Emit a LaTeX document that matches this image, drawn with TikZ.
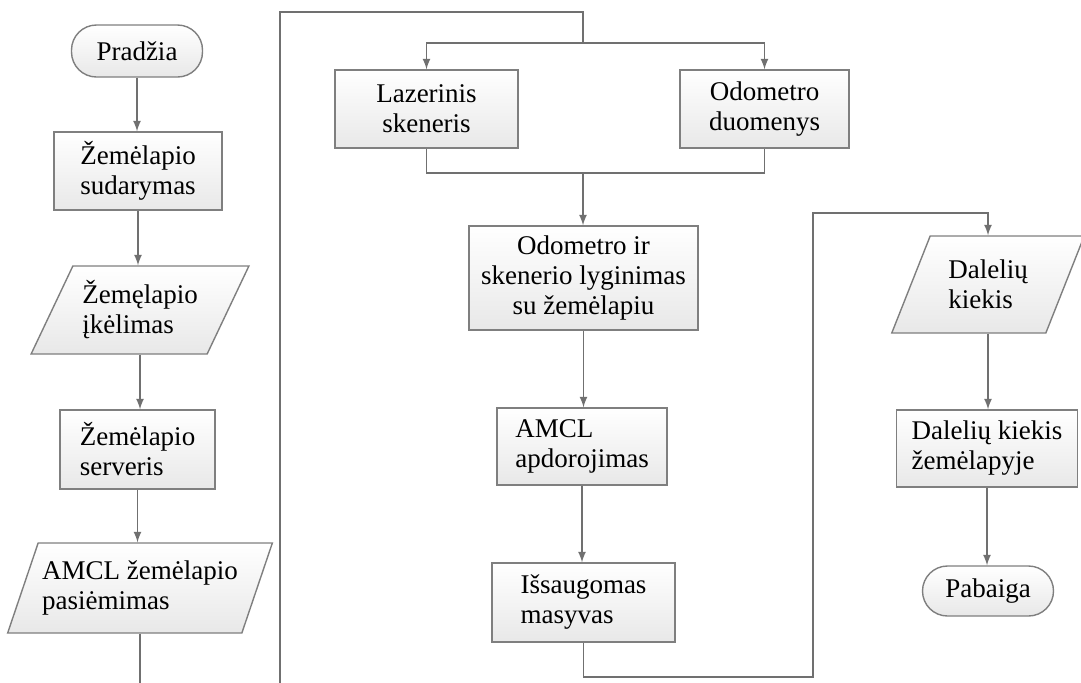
\documentclass[tikz,border=0pt]{standalone}
\usepackage{fontspec}
\setmainfont{Liberation Serif}
\usepackage{tikz}
\usetikzlibrary{calc}
\usetikzlibrary{shapes.geometric}

\definecolor{linegray}{HTML}{707070}
\definecolor{boxgray}{HTML}{7F7F7F}

\tikzset{
    block/.style={draw=boxgray, line width=0.7pt, rectangle, top color=white, bottom color=black!9,
        inner sep=2pt, font=\rmfamily\fontsize{13.5}{15}\selectfont},
    terminal/.style={block, rounded corners=12.5pt},
    io/.style={block, trapezium, trapezium stretches=true},
    flow/.style={draw=linegray, line width=0.8pt},
    arr/.style={flow, -latex}
}

\begin{document}
\begin{tikzpicture}[x=0.5pt, y=-0.5pt]
    \useasboundingbox (0,0) rectangle (1081,682);
    \clip (0,0) rectangle (1081,682);

    % left column
    \node[terminal, minimum width=65.5pt, minimum height=26pt] (start) at (137, 51) {Pradžia};
    \node[block, minimum width=84pt, minimum height=39pt, align=center] (mapmake) at (138, 171) {Žemėlapio\\sudarymas};
    \node[io, trapezium left angle=60, trapezium right angle=120, minimum width=110pt, minimum height=44pt, align=left] (mapload) at (140, 310) {Žemęlapio\\įkėlimas};
    \node[block, minimum width=77.5pt, minimum height=39.5pt, align=left] (mapserver) at (137.5, 449.5) {Žemėlapio\\serveris};
    \node[io, trapezium left angle=64, trapezium right angle=116, minimum width=121pt, minimum height=45pt, align=left] (mapget) at (140, 588) {AMCL žemėlapio\\pasiėmimas};

    \draw[arr] (start.south) -- (start.south |- mapmake.north);
    \draw[arr] (mapmake.south) -- (mapmake.south |- mapload.north);
    \draw[arr] (mapload.south) -- (mapload.south |- mapserver.north);
    \draw[arr] (mapserver.south) -- (mapserver.south |- mapget.north);

    % middle column
    \node[block, minimum width=91.5pt, minimum height=39pt, align=center] (laser) at (426.5, 109) {Lazerinis\\skeneris};
    \node[block, minimum width=84.5pt, minimum height=39pt, align=center] (odom) at (764.5, 109) {Odometro\\duomenys};
    \node[block, minimum width=114.5pt, minimum height=52pt, align=center] (compare) at (583.5, 278) {Odometro ir\\skenerio lyginimas\\su žemėlapiu};
    \node[block, minimum width=85pt, minimum height=38.5pt, align=left] (amclproc) at (582, 446.5) {AMCL\\apdorojimas};
    \node[block, minimum width=91.5pt, minimum height=39.5pt, align=left] (save) at (583.5, 602.5) {Išsaugomas\\masyvas};

    \coordinate (loopL) at (280, 700);
    \coordinate (loopT) at (280, 12);
    \coordinate (split) at (583, 43);
    \coordinate (join) at (583, 173);

    \draw[flow] (mapget.south) |- (loopL) -- (loopT) -| (split);
    \draw[arr] (split) -| (laser.north);
    \draw[arr] (split) -| (odom.north);
    \draw[flow] (laser.south) |- (join) -| (odom.south);
    \draw[arr] (join) -- (join |- compare.north);
    \draw[arr] (compare.south) -- (compare.south |- amclproc.north);
    \draw[arr] (amclproc.south) -- (amclproc.south |- save.north);

    % right column
    \node[io, trapezium left angle=63, trapezium right angle=117, minimum width=96.5pt, minimum height=48.5pt, align=left] (partin) at (988, 284.5) {Dalelių\\kiekis};
    \node[block, minimum width=90.5pt, minimum height=38.5pt, align=left] (partmap) at (987, 448.5) {Dalelių kiekis\\žemėlapyje};
    \node[terminal, minimum width=65.5pt, minimum height=25pt] (stop) at (988, 591) {Pabaiga};

    \coordinate (loopB) at (813, 677);
    \coordinate (loopR) at (813, 213);

    \draw[arr] (save.south) |- (loopB) -- (loopR) -| (partin.north);
    \draw[arr] (partin.south) -- (partin.south |- partmap.north);
    \draw[arr] (partmap.south) -- (partmap.south |- stop.north);
\end{tikzpicture}
\end{document}
